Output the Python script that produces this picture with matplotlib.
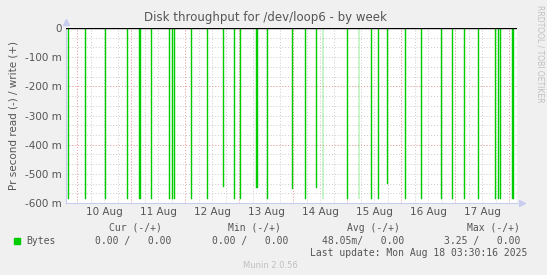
import pandas as pd
import matplotlib
matplotlib.use("Agg")
import matplotlib.dates as mdates
from matplotlib import pyplot as plt

# spike start times (read), depth in milli-bytes/s, duration in minutes
spike_times = ["2025-08-09 20:00", "2025-08-10 03:20", "2025-08-10 12:30", "2025-08-10 22:20",
               "2025-08-11 03:25", "2025-08-11 08:55", "2025-08-11 17:00", "2025-08-11 18:20",
               "2025-08-11 19:10", "2025-08-12 02:50", "2025-08-12 09:55", "2025-08-12 17:00",
               "2025-08-12 21:55", "2025-08-13 00:35", "2025-08-13 07:20", "2025-08-13 12:35",
               "2025-08-13 23:20", "2025-08-14 05:20", "2025-08-14 10:00", "2025-08-14 13:05",
               "2025-08-14 23:50", "2025-08-15 05:05", "2025-08-15 10:30", "2025-08-15 13:35",
               "2025-08-15 17:35", "2025-08-16 01:35", "2025-08-16 08:40", "2025-08-16 17:35",
               "2025-08-16 22:30", "2025-08-17 03:55", "2025-08-17 10:05", "2025-08-17 17:40",
               "2025-08-17 19:00", "2025-08-17 19:55", "2025-08-18 01:20"]
spike_depth = [-585, -585, -585, -585, -585, -585, -585, -585, -585, -585, -585, -545,
               -585, -585, -550, -585, -553, -585, -550, -585, -585, -585, -585, -585,
               -536, -585, -585, -585, -585, -585, -585, -585, -585, -585, -585]
spike_minutes = [25, 50, 25, 25, 50, 25, 25, 25, 25, 25, 25, 25,
                 25, 25, 70, 25, 50, 25, 25, 25, 25, 25, 25, 25,
                 25, 25, 25, 25, 25, 25, 25, 25, 25, 25, 50]
x_start = "2025-08-09 19:05"
x_end = "2025-08-18 03:30"
day_labels = ["10 Aug", "11 Aug", "12 Aug", "13 Aug", "14 Aug", "15 Aug", "16 Aug", "17 Aug"]
y_ticks = [0, -100, -200, -300, -400, -500, -600]
y_labels = ["0", "-100 m", "-200 m", "-300 m", "-400 m", "-500 m", "-600 m"]

legend_head = ["Cur (-/+)", "Min (-/+)", "Avg (-/+)", "Max (-/+)"]
legend_vals = ["0.00 /   0.00", "0.00 /   0.00", "48.05m/   0.00", "3.25 /   0.00"]

GREEN = "#00cc00"
TXT = "#555555"
BG = "#f0f0f0"

fig = plt.figure(figsize=(5.47, 2.75), dpi=100, facecolor=BG)
ax = fig.add_axes([66 / 547, 1 - 203 / 275, 451 / 547, 175 / 275])
ax.set_facecolor("white")

t = pd.to_datetime(spike_times)
widths = [m / 1440 for m in spike_minutes]
ax.bar(mdates.date2num(t), spike_depth, width=widths, align="edge", color=GREEN,
       edgecolor=GREEN, linewidth=0.3, zorder=3)

x0 = mdates.date2num(pd.Timestamp(x_start))
x1 = mdates.date2num(pd.Timestamp(x_end))
ax.set_xlim(x0, x1)
ax.set_ylim(-600, 0)

# grid: minor every 6h gray, major midnight red
days = pd.date_range("2025-08-10", "2025-08-18", freq="D")
six = pd.date_range("2025-08-09 00:00", "2025-08-18 06:00", freq="6h")
for s in six:
    v = mdates.date2num(s)
    if x0 < v < x1:
        ax.axvline(v, color="#cccccc", lw=0.7, ls=(0, (1, 2)), zorder=1)
for d in days:
    ax.axvline(mdates.date2num(d), color="#f0a0a0", lw=0.7, ls=(0, (1, 2)), zorder=1.5)
for yv in range(-600, 1, 100):
    for k in range(3):
        yy = yv + k * 100 / 3
        if -600 < yy < 0:
            ax.axhline(yy, color="#cccccc", lw=0.7, ls=(0, (1, 2)), zorder=1)
for yv in (-200, -400):
    ax.axhline(yv, color="#f0a0a0", lw=0.7, ls=(0, (1, 2)), zorder=1.5)
ax.axhline(0, color="black", lw=1.0, zorder=4)

ax.set_xticks([mdates.date2num(d + pd.Timedelta(hours=12)) for d in days[:-1]])
ax.set_xticklabels(day_labels)
ax.set_yticks(y_ticks)
ax.set_yticklabels(y_labels)
ax.tick_params(axis="both", length=0, labelsize=7.5, labelcolor=TXT, pad=3)
for sp in ("top", "right"):
    ax.spines[sp].set_visible(False)
for sp in ("left", "bottom"):
    ax.spines[sp].set_color("#c8cdf0")
    ax.spines[sp].set_linewidth(0.8)
# axis arrows
ax.plot(1.01, 0, ">", transform=ax.transAxes, color="#c8cdf0", ms=4, clip_on=False)
ax.plot(0, 1.035, "^", transform=ax.transAxes, color="#c8cdf0", ms=4, clip_on=False)

ax.set_ylabel("Pr second read (-) / write (+)", fontsize=7.5, color=TXT, labelpad=4)
ax.yaxis.set_label_coords(-0.105, 0.5)

fig.text(265 / 547, 1 - 18 / 275, "Disk throughput for /dev/loop6 - by week",
         ha="center", va="center", fontsize=8.5, color=TXT)
fig.text(540 / 547, 1 - 5 / 275, "RRDTOOL / TOBI OETIKER", rotation=270, ha="center",
         va="top", fontsize=5.5, color="#c0c0c0")

mono = "DejaVu Sans Mono"
head_right = [162, 281, 400, 520]
val_right = [171, 288, 404, 520]
for h, x in zip(legend_head, head_right):
    fig.text(x / 547, 1 - 228 / 275, h, ha="right", va="center", fontsize=7, family=mono, color=TXT)
for v, x in zip(legend_vals, val_right):
    fig.text(x / 547, 1 - 241 / 275, v, ha="right", va="center", fontsize=7, family=mono, color=TXT)
fig.patches.append(plt.Rectangle((14 / 547, 1 - 244 / 275), 6 / 547, 6 / 275,
                                 transform=fig.transFigure, color=GREEN))
fig.text(26 / 547, 1 - 241 / 275, "Bytes", ha="left", va="center", fontsize=7, family=mono, color=TXT)
fig.text(527 / 547, 1 - 253 / 275, "Last update: Mon Aug 18 03:30:16 2025", ha="right",
         va="center", fontsize=7, family=mono, color=TXT)
fig.text(270 / 547, 1 - 266 / 275, "Munin 2.0.56", ha="center", va="center", fontsize=6,
         color="#c0c0c0")

fig.savefig("out.png", dpi=100, facecolor=BG)
